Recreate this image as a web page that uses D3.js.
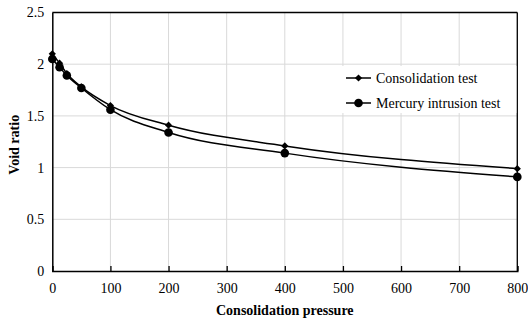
<!DOCTYPE html>
<html><head><meta charset="utf-8">
<script src="https://cdn.jsdelivr.net/npm/d3@7"></script>
<style>body{margin:0;background:#fff}</style>
</head><body>
<svg id="c" width="528" height="322"></svg>
<script>
const pressure = [0, 12.5, 25, 50, 100, 200, 400, 800];
const consolidation = [2.10, 2.01, 1.91, 1.78, 1.60, 1.41, 1.21, 0.99];
const mercury = [2.05, 1.97, 1.89, 1.77, 1.56, 1.34, 1.14, 0.91];
const xTicks = [0,100,200,300,400,500,600,700,800];
const yTicks = [0,0.5,1,1.5,2,2.5];
const seriesNames = ["Consolidation test", "Mercury intrusion test"];

const svg = d3.select("#c");
const L = 52.3, R = 517.3, T = 12.5, B = 271;
const x = d3.scaleLinear().domain([0,800]).range([L,R]);
const y = d3.scaleLinear().domain([0,2.5]).range([B,T]);
const font = "Liberation Serif, Times New Roman, serif";
const fs = 14;

// grid
svg.append("g").selectAll("line").data(xTicks.slice(1)).join("line")
  .attr("x1",d=>x(d)).attr("x2",d=>x(d)).attr("y1",T).attr("y2",B)
  .attr("stroke","#d9d9d9").attr("stroke-width",1);
svg.append("g").selectAll("line").data(yTicks.slice(1)).join("line")
  .attr("x1",L).attr("x2",R).attr("y1",d=>y(d)).attr("y2",d=>y(d))
  .attr("stroke","#d9d9d9").attr("stroke-width",1);

// frame top/right
svg.append("line").attr("x1",L).attr("x2",R).attr("y1",T).attr("y2",T).attr("stroke","#000").attr("stroke-width",1.3);
svg.append("line").attr("x1",R).attr("x2",R).attr("y1",T).attr("y2",B).attr("stroke","#000").attr("stroke-width",1.3);

// axes
const xAxis = svg.append("g").attr("transform",`translate(0,${B})`)
  .call(d3.axisBottom(x).tickValues(xTicks).tickSize(-5).tickPadding(12).tickFormat(d3.format("d")));
const yAxis = svg.append("g").attr("transform",`translate(${L},0)`)
  .call(d3.axisLeft(y).tickValues(yTicks).tickSize(0).tickPadding(8).tickFormat(d=>String(d)));
[xAxis,yAxis].forEach(a=>{
  a.select(".domain").attr("stroke","#000").attr("stroke-width",1.5);
  a.selectAll(".tick line").attr("stroke","#000").attr("stroke-width",1.3);
  a.selectAll("text").attr("font-family",font).attr("font-size",fs).attr("fill","#000");
});

// lines
const line = d3.line().x((d,i)=>x(pressure[i])).y(d=>y(d)).curve(d3.curveMonotoneX);
[consolidation, mercury].forEach(s=>{
  svg.append("path").attr("d",line(s)).attr("fill","none").attr("stroke","#000").attr("stroke-width",1.5);
});
const diamond = d3.symbol().type(d3.symbolSquare).size(26);
svg.append("g").selectAll("path").data(consolidation).join("path")
  .attr("d",diamond).attr("transform",(d,i)=>`translate(${x(pressure[i])},${y(d)}) rotate(45)`).attr("fill","#000");
svg.append("g").selectAll("circle").data(mercury).join("circle")
  .attr("cx",(d,i)=>x(pressure[i])).attr("cy",d=>y(d)).attr("r",4.3).attr("fill","#000");

// legend
const lg = svg.append("g");
lg.append("rect").attr("x",340).attr("y",66).attr("width",R-341).attr("height",47).attr("fill","#fff");
seriesNames.forEach((n,i)=>{
  const yy = 78 + i*25;
  lg.append("line").attr("x1",346).attr("x2",371).attr("y1",yy).attr("y2",yy).attr("stroke","#000").attr("stroke-width",1.5);
  if(i===0) lg.append("path").attr("d",diamond).attr("transform",`translate(358.5,${yy}) rotate(45)`).attr("fill","#000");
  else lg.append("circle").attr("cx",358.5).attr("cy",yy).attr("r",4.3).attr("fill","#000");
  lg.append("text").attr("x",376).attr("y",yy+4.5).text(n).attr("font-family",font).attr("font-size",fs);
});

// titles
svg.append("text").attr("x",(L+R)/2).attr("y",315).attr("text-anchor","middle")
  .attr("font-family",font).attr("font-size",fs).attr("font-weight","bold").text("Consolidation pressure");
svg.append("text").attr("transform",`translate(19,${(T+B)/2+3}) rotate(-90)`).attr("text-anchor","middle")
  .attr("font-family",font).attr("font-size",fs).attr("font-weight","bold").text("Void ratio");
</script>
</body></html>
